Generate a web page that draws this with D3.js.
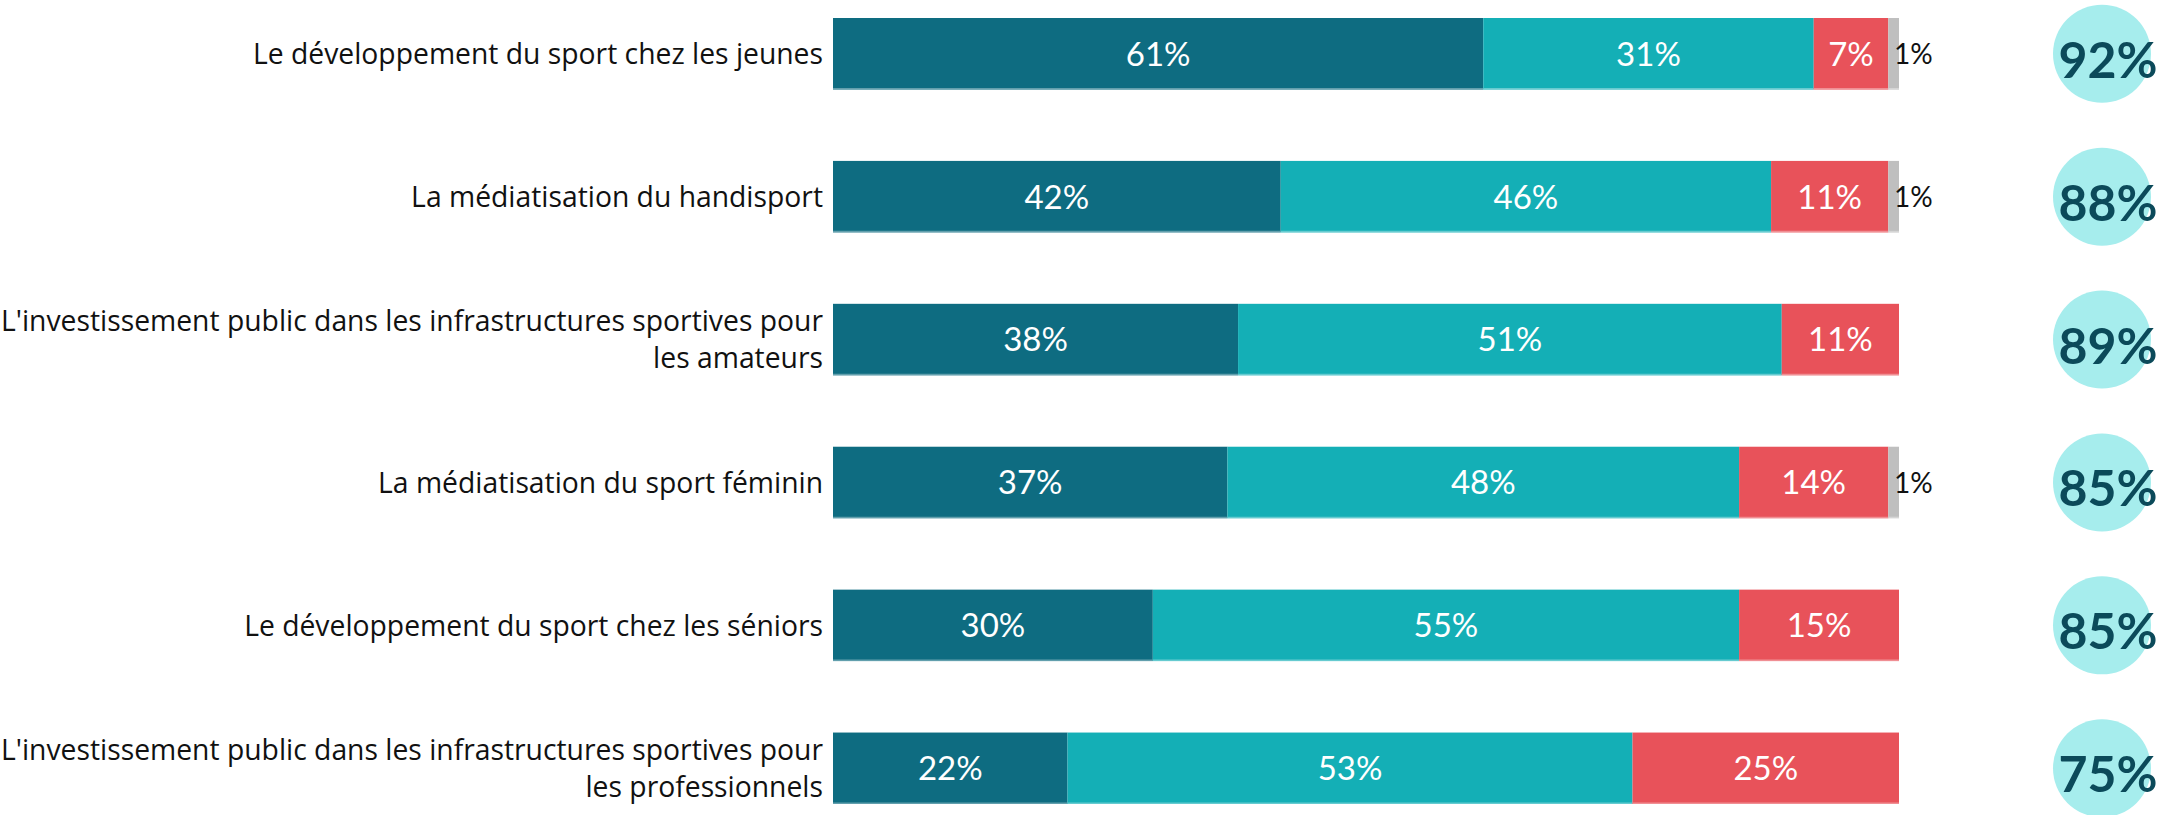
<!DOCTYPE html>
<html>
<head>
<meta charset="utf-8">
<script src="https://cdn.jsdelivr.net/npm/d3@7"></script>
<style>
  html, body { margin: 0; padding: 0; background: #ffffff; }
  svg { display: block; }
</style>
</head>
<body>
<svg id="chart" width="2177" height="815"></svg>
<script>
// ---- data ----
const categories = [
  "Le développement du sport chez les jeunes",
  "La médiatisation du handisport",
  "L'investissement public dans les infrastructures sportives pour\nles amateurs",
  "La médiatisation du sport féminin",
  "Le développement du sport chez les séniors",
  "L'investissement public dans les infrastructures sportives pour\nles professionnels"
];
const seriesNames = ["Tout à fait", "Plutôt", "Plutôt pas", "Pas du tout"];
const veryImportant   = [61, 42, 38, 37, 30, 22];
const ratherImportant = [31, 46, 51, 48, 55, 53];
const notVery         = [7, 11, 11, 14, 15, 25];
const notAtAll        = [1, 1, 0, 1, 0, 0];
const totals          = [92, 88, 89, 85, 85, 75];

const colors = ["#0e6c81", "#14afb6", "#e8525a", "#bfbfbf"];
const labelColors = ["#ffffff", "#ffffff", "#ffffff", "#111111"];

// ---- build ----
const series = [veryImportant, ratherImportant, notVery, notAtAll];
const rows = categories.map((c, i) => {
  const obj = { cat: c };
  seriesNames.forEach((s, k) => obj[s] = series[k][i]);
  return obj;
});
const stacked = d3.stack().keys(seriesNames)(rows);

const svg = d3.select("#chart");
const x = d3.scaleLinear().domain([0, 100]).range([833, 1899]);
const y = d3.scaleBand().domain(categories).range([18, 804]).paddingInner(0.5).paddingOuter(0);
const color = d3.scaleOrdinal().domain(seriesNames).range(colors);
const labelColor = d3.scaleOrdinal().domain(seriesNames).range(labelColors);

const font = "Lato, 'Open Sans', sans-serif";
const catFont = "'Open Sans', Lato, sans-serif";

// category labels
const catG = svg.append("g");
categories.forEach(c => {
  const lines = c.split("\n");
  const cy = y(c) + y.bandwidth() / 2;
  const lh = 37;
  const t = catG.append("text")
    .attr("text-anchor", "end")
    .attr("font-family", catFont)
    .attr("font-size", 28.3)
    .attr("fill", "#111111");
  lines.forEach((ln, j) => {
    t.append("tspan")
      .attr("x", 823)
      .attr("y", cy + (j - (lines.length - 1) / 2) * lh)
      .attr("dy", "0.36em")
      .text(ln);
  });
});

// bars
const layer = svg.append("g").selectAll("g")
  .data(stacked)
  .join("g")
  .attr("fill", d => color(d.key));

layer.selectAll("rect")
  .data(d => d.map(v => Object.assign(v, { key: d.key })))
  .join("rect")
  .filter(d => d[1] - d[0] > 0)
  .attr("x", d => x(d[0]))
  .attr("y", d => y(d.data.cat))
  .attr("width", d => x(d[1]) - x(d[0]))
  .attr("height", y.bandwidth());

// subtle light bottom edge
layer.selectAll("line")
  .data(d => d.filter(v => v[1] - v[0] > 0))
  .join("line")
  .attr("x1", d => x(d[0]))
  .attr("x2", d => x(d[1]))
  .attr("y1", d => y(d.data.cat) + y.bandwidth() - 0.75)
  .attr("y2", d => y(d.data.cat) + y.bandwidth() - 0.75)
  .attr("stroke", d => d3.interpolateRgb(color(d.key), "#ffffff")(0.35))
  .attr("stroke-width", 1.5);

// segment value labels
stacked.forEach(s => {
  const outside = s.key === "Pas du tout";
  svg.append("g").selectAll("text")
    .data(s.filter(v => v[1] - v[0] > 0))
    .join("text")
    .attr("x", d => outside ? x(d[1]) - 5 : (x(d[0]) + x(d[1])) / 2)
    .attr("y", d => y(d.data.cat) + y.bandwidth() / 2)
    .attr("dy", "0.36em")
    .attr("text-anchor", outside ? "start" : "middle")
    .attr("font-family", font)
    .attr("font-size", outside ? 28 : 33)
    .attr("fill", labelColor(s.key))
    .text(d => (d[1] - d[0]) + "%");
});

// total circles
const tot = svg.append("g").selectAll("g")
  .data(categories.map((c, i) => ({ cat: c, v: totals[i] })))
  .join("g")
  .attr("transform", d => `translate(2102,${y(d.cat) + y.bandwidth() / 2})`);
tot.append("circle").attr("r", 49).attr("fill", "#a6eded");
tot.append("text")
  .attr("x", 6)
  .attr("y", 6)
  .attr("dy", "0.36em")
  .attr("text-anchor", "middle")
  .attr("font-family", font)
  .attr("font-weight", 700)
  .attr("font-size", 50)
  .attr("fill", "#0b4a5a")
  .text(d => d.v + "%");
</script>
</body>
</html>
